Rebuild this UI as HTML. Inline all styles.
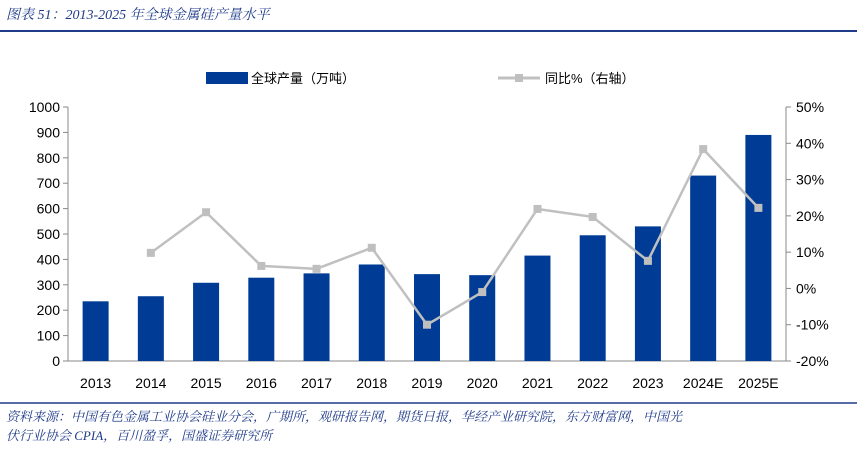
<!DOCTYPE html>
<html><head><meta charset="utf-8"><style>
body{margin:0;background:#fff;width:857px;height:459px;overflow:hidden;font-family:"Liberation Sans","Noto Sans CJK SC",sans-serif}
</style></head><body>
<svg width="857" height="459" xmlns="http://www.w3.org/2000/svg">
<text x="6" y="19" font-size="14" font-style="italic" fill="#1f3b8a" font-family="Liberation Serif,Noto Serif CJK SC,serif">图表 51：2013-2025 年全球金属硅产量水平</text>
<line x1="0" y1="31" x2="857" y2="31" stroke="#1f3b8a" stroke-width="2"/>
<line x1="0" y1="403" x2="857" y2="403" stroke="#1f3b8a" stroke-width="1.5"/>
<text x="6" y="421" font-size="13" font-style="italic" fill="#1f3b8a" font-family="Liberation Serif,Noto Serif CJK SC,serif">资料来源：中国有色金属工业协会硅业分会，广期所，观研报告网，期货日报，华经产业研究院，东方财富网，中国光</text>
<text x="6" y="440" font-size="13" font-style="italic" fill="#1f3b8a" font-family="Liberation Serif,Noto Serif CJK SC,serif">伏行业协会 CPIA，百川盈孚，国盛证券研究所</text>
<rect x="206" y="72" width="42" height="12" fill="#003c96"/>
<text x="251" y="83" font-size="13">全球产量（万吨）</text>
<line x1="498" y1="78" x2="540" y2="78" stroke="#c0c0c0" stroke-width="3"/>
<rect x="515" y="74" width="8" height="8" fill="#bfbfbf"/>
<text x="545" y="83" font-size="13">同比%（右轴）</text>
<g id="g"></g>
</svg>
<script>
const categories=["2013","2014","2015","2016","2017","2018","2019","2020","2021","2022","2023","2024E","2025E"];
const production=[235,255,308,328,345,380,342,338,415,495,530,730,890];
const yoy=[null,9.8,21,6.2,5.4,11.2,-10,-1,21.9,19.7,7.6,38.4,22.2];
const leftTicks=[0,100,200,300,400,500,600,700,800,900,1000];
const rightTicks=[-20,-10,0,10,20,30,40,50];
const NS="http://www.w3.org/2000/svg",g=document.getElementById('g');
const x0=68,x1=786,yT=107,yB=361;
const step=(x1-x0)/categories.length;
const xc=i=>x0+step*(i+0.5);
const yL=v=>yB-(v/1000)*(yB-yT);
const yR=v=>yB-((v+20)/70)*(yB-yT);
function mk(t,a){const e=document.createElementNS(NS,t);for(const k in a)e.setAttribute(k,a[k]);g.appendChild(e);return e;}
let e;
e=mk('line',{x1:x0,y1:yT,x2:x0,y2:yB,stroke:'#888'});


e=mk('line',{x1:x1,y1:yT,x2:x1,y2:yB,stroke:'#888'});


e=mk('line',{x1:x0,y1:yB,x2:x1,y2:yB,stroke:'#888'});


leftTicks.forEach(v=>{
 e=mk('line',{x1:x0-5,y1:yL(v),x2:x0,y2:yL(v),stroke:'#888'});
 
 
 e=mk('text',{x:x0-8,y:yL(v)+5,'font-size':14,'text-anchor':'end'});e.textContent=v;
 
 
});
rightTicks.forEach(v=>{
 e=mk('line',{x1:x1,y1:yR(v),x2:x1+5,y2:yR(v),stroke:'#888'});
 
 
 e=mk('text',{x:x1+10,y:yR(v)+5,'font-size':14});e.textContent=v+'%';
 
 
});
categories.forEach((c,i)=>{
 e=mk('rect',{x:xc(i)-13,y:yL(production[i]),width:26,height:yB-yL(production[i]),fill:'#003c96'});
 
 
 e=mk('text',{x:xc(i),y:388,'font-size':14,'text-anchor':'middle'});e.textContent=c;
 
 
});
let pts=[];yoy.forEach((v,i)=>{if(v!==null)pts.push(xc(i)+','+yR(v));});
e=mk('polyline',{points:pts.join(' '),fill:'none',stroke:'#c0c0c0','stroke-width':2.5});


yoy.forEach((v,i)=>{if(v===null)return;
 e=mk('rect',{x:xc(i)-4,y:yR(v)-4,width:8,height:8,fill:'#bfbfbf'});
 
 
});
</script>
</body></html>
